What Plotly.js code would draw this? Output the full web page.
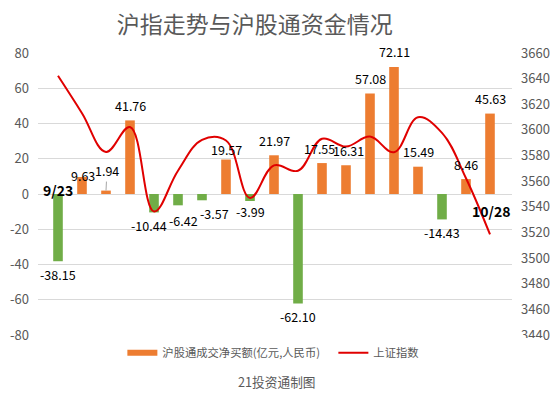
<!DOCTYPE html>
<html>
<head>
<meta charset="utf-8">
<script src="https://cdn.plot.ly/plotly-3.0.1.min.js"></script>
<style>html,body{margin:0;padding:0;background:#fff;}#chart{width:554px;height:399px;}</style>
</head>
<body>
<div id="chart"></div>
<script>
// ---- data ----
const dates = ["9/23","9/24","9/27","9/28","9/29","9/30","10/8","10/11","10/12",
  "10/15","10/18","10/19","10/20","10/21","10/22","10/25","10/26","10/27","10/28"];
const netBuy = [-38.15, 9.63, 1.94, 41.76, -10.44, -6.42, -3.57, 19.57, -3.99,
  21.97, -62.10, 17.55, 16.31, 57.08, 72.11, 15.49, -14.43, 8.46, 45.63];
const shIndex = [3642.22, 3613.07, 3582.83, 3602.22, 3536.29, 3568.17, 3592.17, 3591.71, 3546.94,
  3572.37, 3568.14, 3593.15, 3587.00, 3594.78, 3582.60, 3609.86, 3597.64, 3562.31, 3518.42];
const leftTicks = [-80, -60, -40, -20, 0, 20, 40, 60, 80];
const rightTicks = [3440,3460,3480,3500,3520,3540,3560,3580,3600,3620,3640,3660];
const barName = "沪股通成交净买额(亿元,人民币)";
const lineName = "上证指数";
const titleText = "沪指走势与沪股通资金情况";
const sourceText = "21投资通制图";

// ---- styling ----
const FONT = "'Noto Sans CJK SC', 'Noto Sans', sans-serif";
const GRAY = "#595959";
const ORANGE = "#ED7D31", GREEN = "#70AD47", RED = "#E00000";
const LABEL_SIZE = 12.5;
const nudge = {1:[1,-13], 4:[-5,0], 5:[5,-2], 6:[12,0], 7:[0,-5], 8:[0,3], 11:[-3,0], 12:[2,0]};

const posVals = netBuy.map(v => v >= 0 ? v : null);
const negVals = netBuy.map(v => v < 0 ? v : null);
const noVals = netBuy.map(() => null);

const traces = [
  {type:'bar', x:dates, y:posVals, name:barName, marker:{color:ORANGE}, width:0.4, yaxis:'y', showlegend:false, hoverinfo:'skip'},
  {type:'bar', x:dates, y:negVals, name:barName, marker:{color:GREEN}, width:0.4, yaxis:'y', showlegend:false, hoverinfo:'skip'},
  // legend swatch for the bars (flat wide rectangle as in the reference)
  {type:'scatter', mode:'lines', x:dates, y:noVals, name:barName, yaxis:'y', line:{color:ORANGE, width:6}, hoverinfo:'skip'},
  {type:'scatter', mode:'lines', x:dates, y:shIndex, name:lineName, yaxis:'y2',
   line:{color:RED, width:2, shape:'spline', smoothing:1.1}, hoverinfo:'skip'}
];

const annotations = netBuy.map((v, i) => {
  const n = nudge[i] || [0, 0];
  return {x:dates[i], y:v, xref:'x', yref:'y', text:v.toFixed(2), showarrow:false,
    font:{family:FONT, size:LABEL_SIZE, color:'#000'}, xshift:n[0], yshift:(v >= 0 ? 15 : -13) + n[1]};
});
annotations[2] = {x:dates[2], y:netBuy[2], xref:'x', yref:'y', text:netBuy[2].toFixed(2),
  showarrow:true, arrowhead:0, arrowwidth:1, arrowcolor:'#A6A6A6', ax:1, ay:-20,
  font:{family:FONT, size:LABEL_SIZE, color:'#000'}};
annotations.push({x:dates[0], y:2.3, xref:'x', yref:'y', text:'<b>'+dates[0]+'</b>', showarrow:false,
  font:{family:FONT, size:14, color:'#000'}, xshift:0});
annotations.push({x:dates[dates.length-1], y:-9.6, xref:'x', yref:'y', text:'<b>'+dates[dates.length-1]+'</b>', showarrow:false,
  font:{family:FONT, size:14, color:'#000'}, xshift:1});
annotations.push({x:0.504, y:-0.166, xref:'paper', yref:'paper', text:sourceText, showarrow:false,
  font:{family:FONT, size:12.7, color:GRAY}, yanchor:'middle'});

const layout = {
  width:554, height:399,
  margin:{l:37.5, r:41.5, t:53, b:64, pad:0, autoexpand:false},
  paper_bgcolor:'#fff', plot_bgcolor:'#fff',
  font:{family:FONT, color:GRAY, size:13},
  title:{text:titleText, x:0.46, xref:'container', xanchor:'center', y:0.937, yref:'container', yanchor:'middle',
    font:{family:FONT, size:23, color:GRAY}},
  barmode:'relative',
  showlegend:true,
  legend:{orientation:'h', x:0.178, xanchor:'left', y:-0.063, yanchor:'middle', entrywidth:166,
    font:{family:FONT, size:11.3, color:GRAY}, traceorder:'normal', itemwidth:30},
  xaxis:{type:'category', showticklabels:false, ticks:'', showgrid:false, zeroline:false, showline:false, fixedrange:true},
  yaxis:{range:[-80,80], tickvals:leftTicks, ticktext:leftTicks.map(String), showgrid:true, gridcolor:'#D9D9D9', gridwidth:1,
    zeroline:false, showline:false, ticks:'', tickfont:{family:FONT, size:13, color:GRAY}, ticklabelstandoff:8},
  yaxis2:{range:[3440,3660], tickvals:rightTicks, ticktext:rightTicks.map(String), overlaying:'y', side:'right', showgrid:false,
    zeroline:false, showline:false, ticks:'', tickfont:{family:FONT, size:13, color:GRAY}, ticklabelstandoff:8},
  annotations:annotations
};

Plotly.newPlot('chart', traces, layout, {displayModeBar:false, staticPlot:true});
</script>
</body>
</html>
